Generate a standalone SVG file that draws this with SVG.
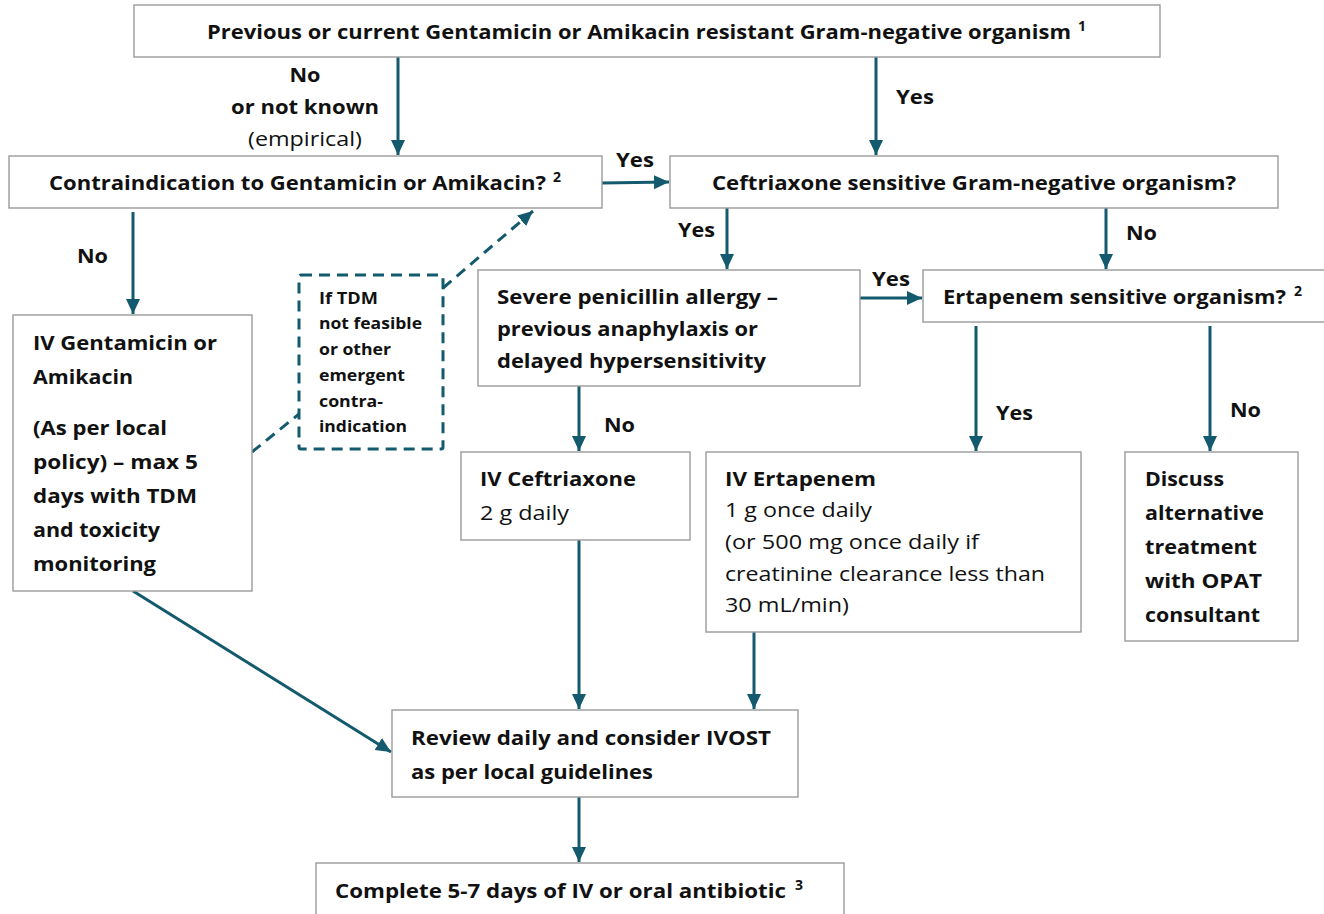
<svg xmlns="http://www.w3.org/2000/svg" width="1324" height="914" viewBox="0 0 1324 914">
<defs>
<style>
.box{fill:#fff;stroke:#9a9a9a;stroke-width:1.4}
.dbox{fill:#fff;stroke:#135a6e;stroke-width:3;stroke-dasharray:11,7}
.c{fill:none;stroke:#135a6e;stroke-width:3}
.d{fill:none;stroke:#135a6e;stroke-width:3;stroke-dasharray:11,7}
text{font-family:"Open Sans","Liberation Sans",sans-serif;fill:#111;font-size:20px}
.b{font-weight:bold}
.s{font-size:16px;font-weight:bold}
.sup{font-size:14px;font-weight:bold}
</style>
<marker id="ah" markerUnits="userSpaceOnUse" markerWidth="16" markerHeight="16" viewBox="0 0 16 16" refX="15" refY="8" orient="auto">
<path d="M0,1 L15,8 L0,15 Z" fill="#135a6e"/>
</marker>
</defs>
<rect width="1324" height="914" fill="#fff"/>

<g id="connectors">
<line class="c" x1="398" y1="57" x2="398" y2="155" marker-end="url(#ah)"/>
<line class="c" x1="876" y1="57" x2="876" y2="155" marker-end="url(#ah)"/>
<line class="c" x1="602" y1="183" x2="669" y2="182" marker-end="url(#ah)"/>
<line class="c" x1="133" y1="212" x2="133" y2="314" marker-end="url(#ah)"/>
<line class="c" x1="727" y1="208" x2="727" y2="269" marker-end="url(#ah)"/>
<line class="c" x1="1106" y1="208" x2="1106" y2="269" marker-end="url(#ah)"/>
<line class="c" x1="860" y1="298" x2="922" y2="298" marker-end="url(#ah)"/>
<line class="c" x1="579" y1="386" x2="579" y2="451" marker-end="url(#ah)"/>
<line class="c" x1="976" y1="326" x2="976" y2="451" marker-end="url(#ah)"/>
<line class="c" x1="1210" y1="326" x2="1210" y2="451" marker-end="url(#ah)"/>
<line class="c" x1="579" y1="540" x2="579" y2="709" marker-end="url(#ah)"/>
<line class="c" x1="754" y1="632" x2="754" y2="709" marker-end="url(#ah)"/>
<line class="c" x1="133" y1="591" x2="391" y2="752" marker-end="url(#ah)"/>
<line class="c" x1="579" y1="797" x2="579" y2="862" marker-end="url(#ah)"/>
<line class="d" x1="252" y1="452" x2="299" y2="414"/>
<line class="d" x1="443" y1="288" x2="533" y2="211" marker-end="url(#ah)"/>
</g>

<g id="labels">
<text class="b" x="305" y="82" text-anchor="middle" textLength="31" lengthAdjust="spacingAndGlyphs">No</text>
<text class="b" x="305" y="114" text-anchor="middle" textLength="148" lengthAdjust="spacingAndGlyphs">or not known</text>
<text x="305" y="146" text-anchor="middle" textLength="114" lengthAdjust="spacingAndGlyphs">(empirical)</text>
<text class="b" x="896" y="104" textLength="38" lengthAdjust="spacingAndGlyphs">Yes</text>
<text class="b" x="616" y="167" textLength="38" lengthAdjust="spacingAndGlyphs">Yes</text>
<text class="b" x="77" y="263" textLength="31" lengthAdjust="spacingAndGlyphs">No</text>
<text class="b" x="678" y="237" textLength="37" lengthAdjust="spacingAndGlyphs">Yes</text>
<text class="b" x="1126" y="240" textLength="31" lengthAdjust="spacingAndGlyphs">No</text>
<text class="b" x="872" y="286" textLength="38" lengthAdjust="spacingAndGlyphs">Yes</text>
<text class="b" x="604" y="432" textLength="31" lengthAdjust="spacingAndGlyphs">No</text>
<text class="b" x="996" y="420" textLength="37" lengthAdjust="spacingAndGlyphs">Yes</text>
<text class="b" x="1230" y="417" textLength="31" lengthAdjust="spacingAndGlyphs">No</text>
</g>

<g id="n-top">
<rect class="box" x="134" y="5" width="1026" height="52"/>
<text class="b" x="207" y="39" textLength="864" lengthAdjust="spacingAndGlyphs">Previous or current Gentamicin or Amikacin resistant Gram-negative organism</text>
<text class="sup" x="1078" y="31">1</text>
</g>

<g id="n-contra">
<rect class="box" x="9" y="156" width="593" height="52"/>
<text class="b" x="49" y="190" textLength="497" lengthAdjust="spacingAndGlyphs">Contraindication to Gentamicin or Amikacin?</text>
<text class="sup" x="553" y="182">2</text>
</g>

<g id="n-ceftsens">
<rect class="box" x="670" y="156" width="608" height="52"/>
<text class="b" x="712" y="190" textLength="524" lengthAdjust="spacingAndGlyphs">Ceftriaxone sensitive Gram-negative organism?</text>
</g>

<g id="n-gent">
<rect class="box" x="13" y="315" width="239" height="276"/>
<text class="b" x="33" y="350" textLength="184" lengthAdjust="spacingAndGlyphs">IV Gentamicin or</text>
<text class="b" x="33" y="384" textLength="100" lengthAdjust="spacingAndGlyphs">Amikacin</text>
<text class="b" x="33" y="435" textLength="134" lengthAdjust="spacingAndGlyphs">(As per local</text>
<text class="b" x="33" y="469" textLength="165" lengthAdjust="spacingAndGlyphs">policy) – max 5</text>
<text class="b" x="33" y="503" textLength="164" lengthAdjust="spacingAndGlyphs">days with TDM</text>
<text class="b" x="33" y="537" textLength="127" lengthAdjust="spacingAndGlyphs">and toxicity</text>
<text class="b" x="33" y="571" textLength="123" lengthAdjust="spacingAndGlyphs">monitoring</text>
</g>

<g id="n-tdm">
<rect class="dbox" x="299" y="275" width="144" height="174" rx="2"/>
<text class="s" x="319" y="304" textLength="59" lengthAdjust="spacingAndGlyphs">If TDM</text>
<text class="s" x="319" y="329" textLength="103" lengthAdjust="spacingAndGlyphs">not feasible</text>
<text class="s" x="319" y="355" textLength="72" lengthAdjust="spacingAndGlyphs">or other</text>
<text class="s" x="319" y="381" textLength="86" lengthAdjust="spacingAndGlyphs">emergent</text>
<text class="s" x="319" y="407" textLength="64" lengthAdjust="spacingAndGlyphs">contra-</text>
<text class="s" x="319" y="432" textLength="88" lengthAdjust="spacingAndGlyphs">indication</text>
</g>

<g id="n-allergy">
<rect class="box" x="478" y="270" width="382" height="116"/>
<text class="b" x="497" y="304" textLength="281" lengthAdjust="spacingAndGlyphs">Severe penicillin allergy –</text>
<text class="b" x="497" y="336" textLength="261" lengthAdjust="spacingAndGlyphs">previous anaphylaxis or</text>
<text class="b" x="497" y="368" textLength="269" lengthAdjust="spacingAndGlyphs">delayed hypersensitivity</text>
</g>

<g id="n-ertsens">
<rect class="box" x="923" y="270" width="410" height="52"/>
<text class="b" x="943" y="304" textLength="343" lengthAdjust="spacingAndGlyphs">Ertapenem sensitive organism?</text>
<text class="sup" x="1294" y="296">2</text>
</g>

<g id="n-ceft">
<rect class="box" x="461" y="452" width="229" height="88"/>
<text class="b" x="480" y="486" textLength="156" lengthAdjust="spacingAndGlyphs">IV Ceftriaxone</text>
<text x="480" y="520" textLength="89" lengthAdjust="spacingAndGlyphs">2 g daily</text>
</g>

<g id="n-ert">
<rect class="box" x="706" y="452" width="375" height="180"/>
<text class="b" x="725" y="486" textLength="151" lengthAdjust="spacingAndGlyphs">IV Ertapenem</text>
<text x="725" y="517" textLength="147" lengthAdjust="spacingAndGlyphs">1 g once daily</text>
<text x="725" y="549" textLength="254" lengthAdjust="spacingAndGlyphs">(or 500 mg once daily if</text>
<text x="725" y="581" textLength="320" lengthAdjust="spacingAndGlyphs">creatinine clearance less than</text>
<text x="725" y="612" textLength="124" lengthAdjust="spacingAndGlyphs">30 mL/min)</text>
</g>

<g id="n-discuss">
<rect class="box" x="1125" y="452" width="173" height="189"/>
<text class="b" x="1145" y="486" textLength="79" lengthAdjust="spacingAndGlyphs">Discuss</text>
<text class="b" x="1145" y="520" textLength="119" lengthAdjust="spacingAndGlyphs">alternative</text>
<text class="b" x="1145" y="554" textLength="112" lengthAdjust="spacingAndGlyphs">treatment</text>
<text class="b" x="1145" y="588" textLength="117" lengthAdjust="spacingAndGlyphs">with OPAT</text>
<text class="b" x="1145" y="622" textLength="115" lengthAdjust="spacingAndGlyphs">consultant</text>
</g>

<g id="n-review">
<rect class="box" x="392" y="710" width="406" height="87"/>
<text class="b" x="411" y="745" textLength="360" lengthAdjust="spacingAndGlyphs">Review daily and consider IVOST</text>
<text class="b" x="411" y="779" textLength="242" lengthAdjust="spacingAndGlyphs">as per local guidelines</text>
</g>

<g id="n-complete">
<rect class="box" x="316" y="863" width="528" height="60"/>
<text class="b" x="335" y="898" textLength="451" lengthAdjust="spacingAndGlyphs">Complete 5-7 days of IV or oral antibiotic</text>
<text class="sup" x="795" y="890">3</text>
</g>
</svg>
